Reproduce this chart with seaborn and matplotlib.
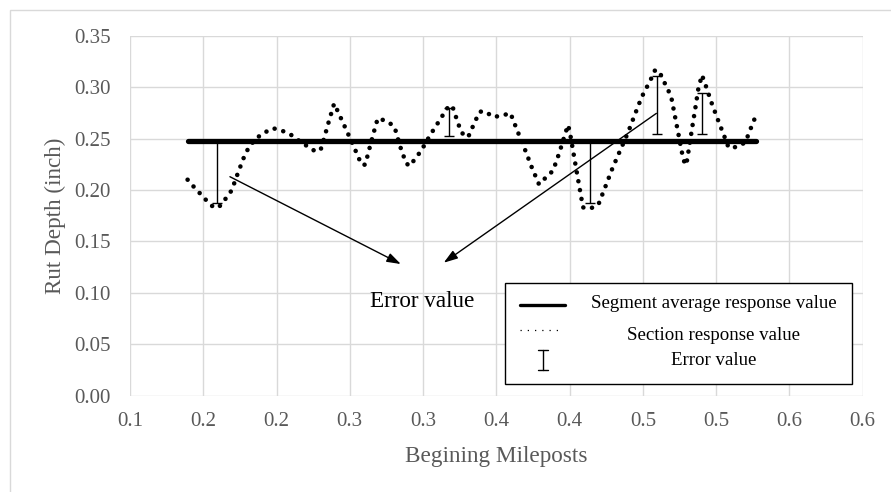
import matplotlib
matplotlib.use("Agg")
import matplotlib.pyplot as plt
from matplotlib.lines import Line2D
from matplotlib.patches import Rectangle
import seaborn as sns
import pandas as pd

# Section response (rut depth, inch) along the beginning mileposts
milepost = [0.1393, 0.1436, 0.1482, 0.1527, 0.1575, 0.1616, 0.1655, 0.1694, 0.1739, 0.1786,
            0.1818, 0.1864, 0.1916, 0.1977, 0.2037, 0.2098, 0.2152, 0.2205, 0.2260, 0.2300,
            0.2320, 0.2355, 0.2393, 0.2418, 0.2473, 0.2528, 0.2580, 0.2605, 0.2637, 0.2673,
            0.2691, 0.2755, 0.2805, 0.2841, 0.2884, 0.2909, 0.2946, 0.2987, 0.3051, 0.3126,
            0.3160, 0.3198, 0.3239, 0.3262, 0.3307, 0.3357, 0.3387, 0.3423, 0.3477, 0.3537,
            0.3596, 0.3644, 0.3694, 0.3741, 0.3791, 0.3839, 0.3887, 0.3930, 0.3969, 0.3989,
            0.4001, 0.4023, 0.4046, 0.4080, 0.4091, 0.4139, 0.4196, 0.4244, 0.4292, 0.4344,
            0.4398, 0.4444, 0.4492, 0.4553, 0.4580, 0.4610, 0.4637, 0.4667, 0.4694, 0.4719,
            0.4744, 0.4769, 0.4785, 0.4796, 0.4817, 0.4837, 0.4858, 0.4878, 0.4903, 0.4926,
            0.4969, 0.5015, 0.5062, 0.5085, 0.5141, 0.5199, 0.5246, 0.5271]
rut_depth = [0.2100, 0.2030, 0.1960, 0.1890, 0.1825, 0.1847, 0.1920, 0.1997, 0.2175, 0.2350,
             0.2430, 0.2505, 0.2557, 0.2600, 0.2577, 0.2537, 0.2480, 0.2430, 0.2380, 0.2386,
             0.2480, 0.2657, 0.2840, 0.2765, 0.2593, 0.2420, 0.2246, 0.2246, 0.2420, 0.2610,
             0.2697, 0.2668, 0.2615, 0.2434, 0.2260, 0.2233, 0.2304, 0.2382, 0.2540, 0.2707,
             0.2790, 0.2823, 0.2648, 0.2557, 0.2512, 0.2674, 0.2761, 0.2765, 0.2710, 0.2722,
             0.2748, 0.2573, 0.2398, 0.2223, 0.2055, 0.2123, 0.2188, 0.2363, 0.2543, 0.2632,
             0.2567, 0.2386, 0.2197, 0.1922, 0.1831, 0.1818, 0.1857, 0.2032, 0.2210, 0.2382,
             0.2557, 0.2729, 0.2904, 0.3072, 0.3160, 0.3160, 0.3072, 0.2989, 0.2900, 0.2716,
             0.2532, 0.2347, 0.2259, 0.2243, 0.2428, 0.2612, 0.2797, 0.2982, 0.3118, 0.3027,
             0.2846, 0.2671, 0.2499, 0.2411, 0.2418, 0.2463, 0.2635, 0.2722]

# Segment average response value
segment_avg = 0.248

# Error value bars (milepost, lower end, upper end)
err_milepost = [0.1593, 0.3175, 0.4142, 0.4596, 0.4906]
err_low = [0.187, 0.2525, 0.187, 0.2544, 0.2544]
err_high = [0.248, 0.2794, 0.248, 0.3110, 0.2946]

x_ticks = [0.10, 0.15, 0.20, 0.25, 0.30, 0.35, 0.40, 0.45, 0.50, 0.55, 0.60]
x_tick_labels = ["0.1", "0.2", "0.2", "0.3", "0.3", "0.4", "0.4", "0.5", "0.5", "0.6", "0.6"]
y_ticks = [0.00, 0.05, 0.10, 0.15, 0.20, 0.25, 0.30, 0.35]
y_tick_labels = ["0.00", "0.05", "0.10", "0.15", "0.20", "0.25", "0.30", "0.35"]

sns.set_theme(style="white")
plt.rcParams["font.family"] = ["Liberation Serif", "DejaVu Serif"]

GRID = "#d9d9d9"
TXT = "#595959"

fig = plt.figure(figsize=(8.91, 4.92), dpi=100)
ax = fig.add_axes([130 / 891, 1 - 395.7 / 492, 732.7 / 891, 360 / 492])

df = pd.DataFrame({"milepost": milepost, "rut": rut_depth})
sns.lineplot(data=df, x="milepost", y="rut", ax=ax, estimator=None, sort=False,
             color="black", lw=3.3, linestyle=(0, (0.01, 1.95)),
             dash_capstyle="round", zorder=2)

seg = pd.DataFrame({"milepost": [milepost[0], milepost[-1]],
                    "rut": [segment_avg, segment_avg]})
sns.lineplot(data=seg, x="milepost", y="rut", ax=ax, estimator=None, sort=False,
             color="black", lw=3.8, solid_capstyle="round", zorder=3)

mid = [(lo + hi) / 2 for lo, hi in zip(err_low, err_high)]
half = [(hi - lo) / 2 for lo, hi in zip(err_low, err_high)]
ax.errorbar(err_milepost, mid, yerr=half, fmt="none", ecolor="black",
            elinewidth=1.0, capsize=3.8, capthick=1.0, zorder=4)

# Arrows pointing to the error label
arrow_kw = dict(arrowstyle="-|>,head_length=0.6,head_width=0.2", color="black",
                lw=1.0, mutation_scale=14, shrinkA=0, shrinkB=0)
ax.annotate("", xy=(0.2848, 0.128), xytext=(0.1682, 0.2129),
            arrowprops=arrow_kw, zorder=5)
ax.annotate("", xy=(0.3141, 0.1293), xytext=(0.4592, 0.2745),
            arrowprops=arrow_kw, zorder=5)
ax.text(0.2995, 0.0914, "Error value", ha="center", va="center",
        fontsize=16.7, color="black", zorder=5)

ax.set_xlim(0.1, 0.6)
ax.set_ylim(0.0, 0.35)
ax.set_xticks(x_ticks)
ax.set_xticklabels(x_tick_labels)
ax.set_yticks(y_ticks)
ax.set_yticklabels(y_tick_labels)
ax.tick_params(axis="both", length=0, labelsize=15, labelcolor=TXT)
ax.tick_params(axis="x", pad=12)
ax.tick_params(axis="y", pad=14)
ax.grid(True, color=GRID, lw=1.0)
ax.set_axisbelow(True)
for s in ax.spines.values():
    s.set_visible(False)

ax.set_xlabel("Begining Mileposts", fontsize=16.7, color=TXT)
ax.set_ylabel("Rut Depth (inch)", fontsize=16.7, color=TXT)
ax.xaxis.set_label_coords(0.5, (395.7 - 456.7) / 360)
ax.xaxis.label.set_va("center")
ax.yaxis.set_label_coords((55 - 130) / 732.7, 0.5)
ax.yaxis.label.set_va("center")

# Legend box with centred entry texts
T = ax.transAxes
ax.add_patch(Rectangle((0.5118, 0.0317), 0.4740, 0.2805, transform=T,
                       facecolor="white", edgecolor="black", lw=1.0, zorder=10))
ax.add_line(Line2D([0.532, 0.5935], [0.2519, 0.2519], transform=T, color="black",
                   lw=2.4, zorder=11))
ax.add_line(Line2D([0.532, 0.585], [0.182, 0.182], transform=T, color="black",
                   lw=0.9, linestyle=(0, (1, 4.8)), zorder=11))
ax.add_line(Line2D([0.5637, 0.5637], [0.0714, 0.127], transform=T, color="black",
                   lw=1.0, zorder=11))
for yy in (0.0714, 0.127):
    ax.add_line(Line2D([0.5565, 0.5709], [yy, yy], transform=T, color="black",
                       lw=1.0, zorder=11))
leg_labels = ["Segment average response value", "Section response value", "Error value"]
leg_y = [0.256, 0.168, 0.097]
for lab, yy in zip(leg_labels, leg_y):
    ax.text(0.797, yy, lab, transform=T, ha="center", va="center",
            fontsize=13.6, color="black", zorder=11)

# Outer chart border
fig.add_artist(Rectangle((10 / 891, -0.2), 2.0, 0.2 + 1 - 10 / 492,
                         transform=fig.transFigure, fill=False,
                         edgecolor=GRID, lw=1.0))

fig.savefig("out.png", dpi=100)
